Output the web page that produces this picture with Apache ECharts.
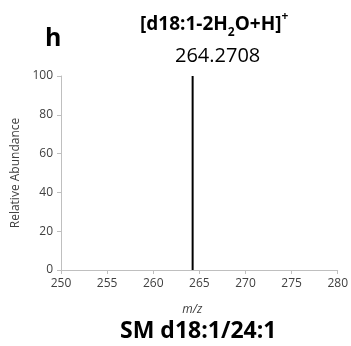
<!DOCTYPE html>
<html>
<head>
<meta charset="utf-8">
<script src="https://cdn.jsdelivr.net/npm/echarts@6/dist/echarts.min.js"></script>
<style>
  html, body { margin: 0; padding: 0; background: #fff; }
  #chart { width: 351px; height: 346px; }
</style>
</head>
<body>
<div id="chart"></div>
<script>
const peakMz = [264.2708]
const peakAbundance = [100]
const xTicks = { min: 250, max: 280, interval: 5 }
const yTicks = { min: 0, max: 100, interval: 20 }
const panelLabel = 'h'
const ionLabel = '264.2708'
const compoundName = 'SM d18:1/24:1'

const font = '"Open Sans", "Noto Sans", sans-serif'
const chart = echarts.init(document.getElementById('chart'))

chart.setOption({
  animation: false,
  textStyle: { fontFamily: font },
  grid: { left: 61, right: 9, top: 76, bottom: 76 },
  xAxis: {
    type: 'value',
    min: xTicks.min,
    max: xTicks.max,
    interval: xTicks.interval,
    name: 'm/z',
    nameLocation: 'middle',
    nameGap: 34,
    nameTextStyle: { fontStyle: 'italic', fontSize: 12, color: '#404040', fontFamily: font, padding: [0, 14, 0, 0] },
    axisLine: { lineStyle: { color: '#bfbfbf' } },
    axisTick: { show: true, length: 4, lineStyle: { color: '#bfbfbf' } },
    axisLabel: { fontSize: 12, color: '#404040', margin: 8, fontFamily: font },
    splitLine: { show: false },
  },
  yAxis: {
    type: 'value',
    min: yTicks.min,
    max: yTicks.max,
    interval: yTicks.interval,
    name: 'Relative Abundance',
    nameLocation: 'middle',
    nameGap: 38,
    nameTextStyle: { fontSize: 12, color: '#404040', fontFamily: font },
    axisLine: { show: true, lineStyle: { color: '#bfbfbf' } },
    axisTick: { show: true, length: 4, lineStyle: { color: '#bfbfbf' } },
    axisLabel: { fontSize: 12, color: '#404040', margin: 8, fontFamily: font },
    splitLine: { show: false },
  },
  graphic: [
    {
      type: 'text', left: 45, top: 26,
      style: { text: panelLabel, font: 'bold 25px ' + font, fill: '#000' },
    },
    {
      type: 'text', left: 140, top: 11,
      style: {
        text: '{n|[d18:1-2H}{s|2}{n|O+H]}{p|+}',
        rich: {
          n: { fontSize: 19, fontWeight: 'bold', fontFamily: font, fill: '#000', lineHeight: 28, verticalAlign: 'middle' },
          s: { fontSize: 12, fontWeight: 'bold', fontFamily: font, fill: '#000', lineHeight: 28, verticalAlign: 'bottom', padding: [12, 0, 0, 0] },
          p: { fontSize: 12, fontWeight: 'bold', fontFamily: font, fill: '#000', lineHeight: 28, verticalAlign: 'top' },
        },
      },
    },
    {
      type: 'text', left: 175, top: 46,
      style: { text: ionLabel, font: '20px ' + font, fill: '#000' },
    },
    {
      type: 'text', left: 120, top: 320,
      style: { text: compoundName, font: 'bold 23px ' + font, fill: '#000' },
    },
  ],
  series: [
    {
      type: 'bar',
      data: peakMz.map((mz, i) => [mz, peakAbundance[i]]),
      barWidth: 2,
      itemStyle: { color: '#000' },
    },
  ],
})
</script>
</body>
</html>
